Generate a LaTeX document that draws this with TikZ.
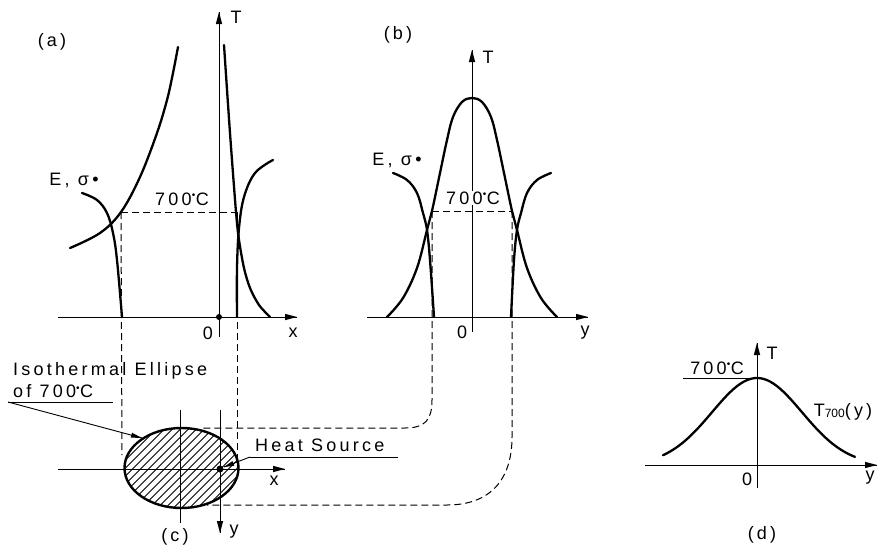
\documentclass[tikz,border=0pt]{standalone}
\usepackage{fontspec}
\setmainfont{Liberation Sans}[LetterSpace=18]
\newcommand{\degc}{\textsuperscript{\raisebox{0pt}{\fontsize{10}{10}\selectfont •}}C}
\begin{document}
\begin{tikzpicture}[x=1pt,y=-1pt,
  lbl/.style={font=\fontsize{18}{20}\selectfont, inner sep=1pt},
  curve/.style={line width=2.3pt, line cap=round},
  axis/.style={line width=0.9pt},
  dsh/.style={line width=1pt, dash pattern=on 7pt off 4pt},
  hatch/.style={line width=0.8pt},
  tipR/.style={insert path={-- ++(-12,-3.2) -- ++(0,6.4) -- cycle}},
  tipU/.style={insert path={-- ++(-3.2,12) -- ++(6.4,0) -- cycle}},
  tipD/.style={insert path={-- ++(-3.2,-12) -- ++(6.4,0) -- cycle}}
]
\useasboundingbox (0,0) rectangle (878,546);

% ---------------- panel (a)
\coordinate (a0) at (219,317);
\coordinate (axs) at (58,317);  \coordinate (axe) at (297,317);
\coordinate (ays) at (219,337); \coordinate (aye) at (219,12);
\draw[axis] (axs) -- (axe);
\fill[black] (axe) [tipR];
\draw[axis] (ays) -- (aye);
\fill[black] (aye) [tipU];
\fill (a0) circle (3pt);
\node[lbl] (aT) at (236,17) {T};
\node[lbl] (aO) at (208,333) {0};
\node[lbl] (ax) at (293,333) {x};
\node[lbl] (alab) at (52,42) {(a)};
\node[lbl] (aE) at (74,180) {E, σ•};
\node[lbl] (a700) at (182,199) {700\degc};
\coordinate (aL) at (121,212);
\coordinate (aR) at (237,212);
\draw[dsh] (aL) -- (aR);
\draw[dsh] (aL) -- (122,455);
\draw[dsh] (aR) -- (237,460);
\draw[curve] plot[smooth,tension=0.6] coordinates {(70,248) (100,233) (121,212) (140,177) (157,133) (167,100) (173,73) (178,47)};
\draw[curve] plot[smooth,tension=0.6] coordinates {(82,193) (97,200) (107,213) (113,233) (117,260) (122,317)};
\draw[curve] plot[smooth,tension=0.5] coordinates {(224,45) (230,133) (236,212) (239,240) (244,268) (250,288) (259,305) (270,317)};
\draw[curve] plot[smooth,tension=0.6] coordinates {(237,317) (237,268) (239,228) (244,197) (255,173) (273,160)};

% ---------------- panel (b)
\coordinate (bxs) at (367,317); \coordinate (bxe) at (588,317);
\coordinate (bys) at (472,332); \coordinate (bye) at (472,50);
\draw[axis] (bxs) -- (bxe);
\fill[black] (bxe) [tipR];
\draw[axis] (bys) -- (bye);
\fill[black] (bye) [tipU];
\node[lbl] (bT) at (488,57) {T};
\node[lbl] (bO) at (462,332) {0};
\node[lbl] (by) at (585,333) {y};
\node[lbl] (blab) at (398,35) {(b)};
\node[lbl] (bE) at (397,160) {E, σ•};
\node[lbl,fill=white] (b700) at (473,198) {700\degc};
\coordinate (bL) at (432,211);
\coordinate (bR) at (512,211);
\draw[dsh] (bL) -- (bR);
\draw[curve] plot[smooth,tension=0.6] coordinates {(387,317) (403,298) (417,268) (427,230) (432,211) (440,173) (447,140) (453,117) (462,102) (472,98) (482,102) (491,117) (497,140) (504,173) (512,211) (517,230) (527,268) (541,298) (557,317)};
\draw[curve] plot[smooth,tension=0.6] coordinates {(393,173) (407,180) (417,193) (423,213) (427,230) (430,260) (434,317)};
\draw[curve] plot[smooth,tension=0.6] coordinates {(551,173) (537,180) (527,193) (521,213) (517,230) (514,260) (511,317)};

% connectors (b) -> (c)
\draw[dsh] (bL) -- (432,400) .. controls (432,420) and (425,428) .. (405,428) -- (200,428);
\draw[dsh] (bR) -- (512,437) .. controls (512,480) and (490,505) .. (447,505) -- (207,505);

% ---------------- panel (c)
\coordinate (cc) at (181.5,468);
\begin{scope}
  \clip (cc) ellipse [x radius=57pt, y radius=40pt];
  \foreach \i in {-136,-128,...,136}
    \draw[hatch] ({\i+131.5},518) -- ({\i+231.5},418);
\end{scope}
\draw[line width=2.4pt] (cc) ellipse [x radius=57pt, y radius=40pt];
\coordinate (cxs) at (58,469);  \coordinate (cxe) at (285,469);
\draw[axis] (cxs) -- (cxe);
\fill[black] (cxe) [tipR];
\draw[axis] (180,410) -- (180,523);
\coordinate (hs) at (220,469);
\coordinate (cys) at (220,410); \coordinate (cye) at (220,533);
\draw[axis] (cys) -- (cye);
\fill[black] (cye) [tipD];
\fill (hs) circle (3.5pt);
\node[lbl] (cx) at (274,481) {x};
\node[lbl] (cy) at (234,532) {y};
\node[lbl] (clab) at (175,537) {(c)};
\node[lbl,anchor=west] (hsl) at (254,445) {Heat Source};
\coordinate (hsu) at (250,457);
\coordinate (hst) at (224,467);
\draw[axis] (hsu) -- (398,457);
\draw[axis] (hsu) -- (hst);
\fill[black] (hst) -- (232.43,461.08) -- (234.23,465.74) -- cycle;
\node[lbl,anchor=west] (iso1) at (12,371) {Isothermal Ellipse};
\node[lbl,anchor=west] (iso2) at (12,391) {of 700\degc};
\coordinate (isou) at (8,402);
\coordinate (isot) at (142,438);
\draw[axis] (isou) -- (113,402);
\draw[axis] (isou) -- (isot);
\fill[black] (isot) -- (130.73,437.56) -- (132.03,432.74) -- cycle;

% ---------------- panel (d)
\coordinate (dxs) at (645,465); \coordinate (dxe) at (877,465);
\coordinate (dys) at (757,488); \coordinate (dye) at (757,343);
\draw[axis] (dxs) -- (dxe);
\fill[black] (dxe) [tipR];
\draw[axis] (dys) -- (dye);
\fill[black] (dye) [tipU];
\draw[axis] (683,378) -- (757,378);
\node[lbl] (d700) at (717,368) {700\degc};
\node[lbl] (dT) at (772,353) {T};
\node[lbl] (dO) at (747,479) {0};
\node[lbl] (dy) at (870,478) {y};
\node[lbl] (dcurve) at (843,412) {T\raisebox{-1pt}{\fontsize{12}{12}\selectfont\addfontfeature{LetterSpace=0}700}(y)};
\node[lbl] (dlab) at (762,535) {(d)};
\draw[curve] plot[domain=-94:98,samples=60,smooth] ({757+\x}, {465-87*exp(-(\x*\x)/(2*2025))});
\end{tikzpicture}
\end{document}
